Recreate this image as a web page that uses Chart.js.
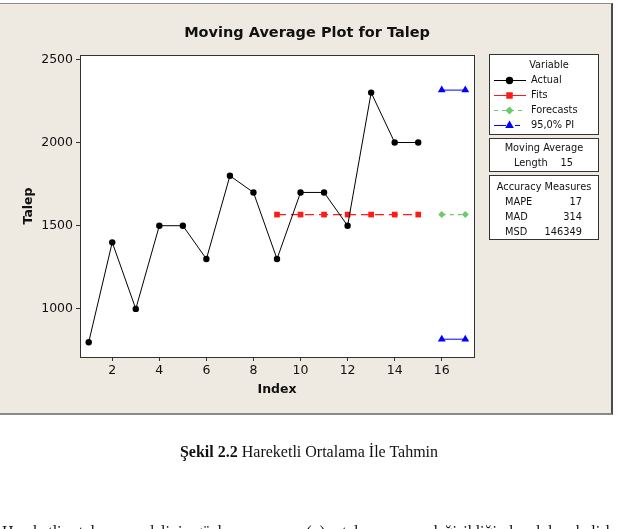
<!DOCTYPE html>
<html>
<head>
<meta charset="utf-8">
<script src="https://cdn.jsdelivr.net/npm/chart.js@4.4.0/dist/chart.umd.min.js"></script>
<style>
html, body { margin: 0; padding: 0; background: #fff; width: 618px; height: 529px; overflow: hidden; }
#panel { position: absolute; left: 0; top: 3px; width: 611px; height: 409px; background: #eeeae1;
  border-top: 1px solid #8c8c8c; border-right: 2px solid #4a4a4a; border-bottom: 2px solid #8a8a8a; }
#myChart { position: absolute; left: 0; top: 0; }
.caption { position: absolute; left: 0; width: 618px; top: 442px; line-height: 20px; text-align: center;
  font-family: "Liberation Serif", serif; font-size: 16px; color: #111; }
.para { position: absolute; left: 2px; width: 614px; top: 522px; line-height: 19px; white-space: nowrap;
  font-family: "Liberation Serif", serif; font-size: 16px; color: #111; text-align: justify; text-align-last: justify; }
</style>
</head>
<body>
<div id="panel"></div>
<canvas id="myChart" width="618" height="529"></canvas>
<div class="caption"><b>Şekil 2.2</b> Hareketli Ortalama İle Tahmin</div>
<div class="para">Hareketli ortalama modelinin gözlem sayısının (n) ortalama sayısı değişikliğinden dolayı belirlenmesi gerekir</div>
<script>
// values
const indexValues = [1, 2, 3, 4, 5, 6, 7, 8, 9, 10, 11, 12, 13, 14, 15];
const actualValues = [800, 1400, 1000, 1500, 1500, 1300, 1800, 1700, 1300, 1700, 1700, 1500, 2300, 2000, 2000];
const fitIndex = [9, 10, 11, 12, 13, 14, 15];
const fitValues = [1567, 1567, 1567, 1567, 1567, 1567, 1567];
const forecastIndex = [16, 17];
const forecastValues = [1567, 1567];
const piUpper = [2315, 2315];
const piLower = [818, 818];
const xTicks = [2, 4, 6, 8, 10, 12, 14, 16];
const yTicks = [1000, 1500, 2000, 2500];
const chartTitle = "Moving Average Plot for Talep";
const maLength = 15;
const accuracyNames = ["MAPE", "MAD", "MSD"];
const accuracyValues = [17, 314, 146349];

const FONT = '"DejaVu Sans", sans-serif';

function pts(xs, ys) {
    return xs.map((x, i) => ({x: x, y: ys[i]}));
}

function marker(ctx, style, x, y, r) {
    ctx.beginPath();
    if (style === 'circle') {
        ctx.arc(x, y, r, 0, Math.PI * 2);
    } else if (style === 'rect') {
        ctx.rect(x - r * 0.72, y - r * 0.72, r * 1.44, r * 1.44);
    } else if (style === 'rectRot') {
        ctx.moveTo(x, y - r); ctx.lineTo(x + r, y); ctx.lineTo(x, y + r); ctx.lineTo(x - r, y);
        ctx.closePath();
    } else if (style === 'triangle') {
        ctx.moveTo(x, y - r); ctx.lineTo(x + r * 0.87, y + r * 0.5); ctx.lineTo(x - r * 0.87, y + r * 0.5);
        ctx.closePath();
    }
    ctx.fill();
}

const plotFrame = {
    id: 'plotFrame',
    beforeDraw(chart) {
        const {ctx, chartArea: a} = chart;
        ctx.save();
        ctx.fillStyle = '#fff';
        ctx.fillRect(a.left, a.top, a.right - a.left, a.bottom - a.top);
        ctx.restore();
    },
    afterDraw(chart) {
        const {ctx, chartArea: a} = chart;
        ctx.save();
        ctx.strokeStyle = '#333';
        ctx.lineWidth = 1;
        ctx.strokeRect(Math.round(a.left) + 0.5, Math.round(a.top) + 0.5, Math.round(a.right - a.left), Math.round(a.bottom - a.top));
        ctx.font = 'bold 14.5px ' + FONT;
        ctx.fillStyle = '#111';
        ctx.textAlign = 'center';
        ctx.textBaseline = 'middle';
        ctx.fillText(chartTitle, 307, 33);
        ctx.restore();
    }
};

const sideBoxes = {
    id: 'sideBoxes',
    afterDraw(chart) {
        const ctx = chart.ctx;
        const x0 = 489.5, w = 109;
        ctx.save();
        ctx.fillStyle = '#fff';
        ctx.strokeStyle = '#333';
        ctx.lineWidth = 1;
        [[54.5, 80], [138.5, 33], [175.5, 64]].forEach(b => {
            ctx.fillRect(x0, b[0], w, b[1]);
            ctx.strokeRect(x0, b[0], w, b[1]);
        });
        ctx.font = '9.8px ' + FONT;
        ctx.fillStyle = '#111';
        ctx.textBaseline = 'middle';
        ctx.textAlign = 'center';
        ctx.fillText('Variable', 549, 65);

        chart.data.datasets.slice(0, 4).forEach((d, i) => {
            const y = 80 + i * 15;
            ctx.save();
            ctx.strokeStyle = d.borderColor;
            ctx.lineWidth = 1;
            ctx.setLineDash(d.legendDash || d.borderDash || []);
            ctx.beginPath();
            ctx.moveTo(494, y + 0.5);
            ctx.lineTo(526, y + 0.5);
            ctx.stroke();
            ctx.fillStyle = d.pointBackgroundColor;
            marker(ctx, d.pointStyle, 509.5, y + 0.5, d.pointRadius + 0.5);
            ctx.restore();
            ctx.textAlign = 'left';
            ctx.fillText(d.label, 531, y);
        });

        ctx.textAlign = 'center';
        ctx.fillText('Moving Average', 544, 148);
        ctx.textAlign = 'left';
        ctx.fillText('Length', 514, 163);
        ctx.textAlign = 'right';
        ctx.fillText(String(maLength), 573, 163);

        ctx.textAlign = 'center';
        ctx.fillText('Accuracy Measures', 544, 187);
        accuracyNames.forEach((n, i) => {
            const y = 202 + i * 15;
            ctx.textAlign = 'left';
            ctx.fillText(n, 505, y);
            ctx.textAlign = 'right';
            ctx.fillText(String(accuracyValues[i]), 582, y);
        });
        ctx.restore();
    }
};

const ctx = document.getElementById("myChart");

const datasets = [{
    label: 'Actual',
    data: pts(indexValues, actualValues),
    borderColor: '#000',
    backgroundColor: '#000',
    borderWidth: 1,
    pointStyle: 'circle',
    pointRadius: 3.2,
    pointBackgroundColor: '#000',
    pointBorderWidth: 0
}, {
    label: 'Fits',
    data: pts(fitIndex, fitValues),
    borderColor: '#ff1a1a',
    borderWidth: 1.2,
    borderDash: [9, 5],
    legendDash: [],
    pointStyle: 'rect',
    pointRadius: 4,
    pointBackgroundColor: '#ff1a1a',
    pointBorderWidth: 0
}, {
    label: 'Forecasts',
    data: pts(forecastIndex, forecastValues),
    borderColor: '#6cc96c',
    borderWidth: 1.2,
    borderDash: [4, 4],
    pointStyle: 'rectRot',
    pointRadius: 3.5,
    pointBackgroundColor: '#6cc96c',
    pointBorderWidth: 0
}, {
    label: '95,0% PI',
    data: pts(forecastIndex, piUpper),
    borderColor: '#0000ff',
    borderWidth: 1,
    legendDash: [12, 9, 5, 20],
    pointStyle: 'triangle',
    pointRadius: 4.5,
    pointBackgroundColor: '#0000ff',
    pointBorderWidth: 0
}, {
    label: '95,0% PI',
    data: pts(forecastIndex, piLower),
    borderColor: '#0000ff',
    borderWidth: 1,
    pointStyle: 'triangle',
    pointRadius: 4.5,
    pointBackgroundColor: '#0000ff',
    pointBorderWidth: 0
}];

datasets.forEach(d => { d.tension = 0; d.fill = false; });

const chartOptions = {
    responsive: false,
    animation: false,
    layout: { padding: { top: 55, right: 144, bottom: 115, left: 0 } },
    plugins: {
        legend: { display: false },
        title: { display: false },
        tooltip: { enabled: false }
    },
    scales: {
        x: {
            type: 'linear',
            min: 0.63,
            max: 17.37,
            afterBuildTicks: s => { s.ticks = xTicks.map(v => ({value: v})); },
            afterFit: s => { s.height = 57; },
            grid: { drawOnChartArea: false, tickLength: 4, color: '#333' },
            border: { color: '#333' },
            ticks: { color: '#111', padding: 2, font: { family: FONT, size: 12.5 }, callback: v => String(v) },
            title: { display: true, text: 'Index', color: '#111', font: { family: FONT, size: 12.5, weight: 'bold' }, padding: { top: 0, bottom: 17 } }
        },
        y: {
            min: 711,
            max: 2526,
            afterBuildTicks: s => { s.ticks = yTicks.map(v => ({value: v})); },
            afterFit: s => { s.width = 80; },
            grid: { drawOnChartArea: false, tickLength: 4, color: '#333' },
            border: { color: '#333' },
            ticks: { color: '#111', padding: 3, font: { family: FONT, size: 12.5 }, callback: v => String(v) },
            title: { display: true, text: 'Talep', color: '#111', font: { family: FONT, size: 12.5, weight: 'bold' }, padding: { top: 21, bottom: 0 } }
        }
    }
};

new Chart(ctx, {
    type: 'line',
    data: { datasets: datasets },
    options: chartOptions,
    plugins: [plotFrame, sideBoxes]
});
</script>
</body>
</html>
